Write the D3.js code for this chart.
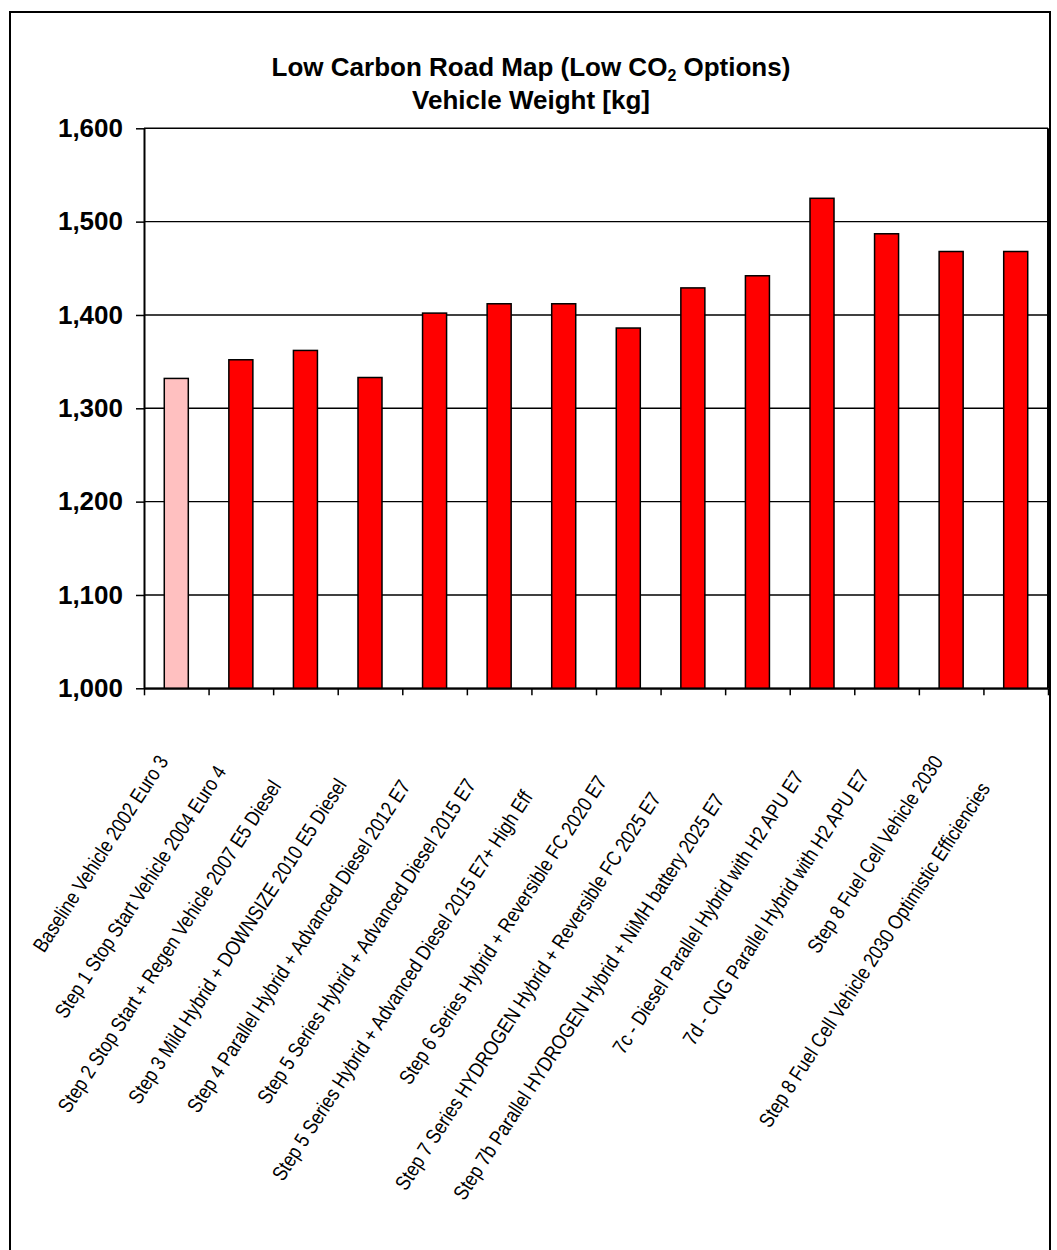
<!DOCTYPE html>
<html>
<head>
<meta charset="utf-8">
<script src="https://cdn.jsdelivr.net/npm/d3@7"></script>
<style>
  html, body { margin: 0; padding: 0; background: #fff; }
  svg { display: block; }
</style>
</head>
<body>
<svg id="chart" width="1057" height="1250"></svg>
<script>
// ---- data ----
const categories = [
  "Baseline Vehicle 2002 Euro 3",
  "Step 1 Stop Start Vehicle 2004 Euro 4",
  "Step 2 Stop Start + Regen Vehicle 2007 E5 Diesel",
  "Step 3 Mild Hybrid + DOWNSIZE 2010 E5 Diesel",
  "Step 4 Parallel Hybrid + Advanced Diesel 2012 E7",
  "Step 5 Series Hybrid + Advanced Diesel 2015 E7",
  "Step 5 Series Hybrid + Advanced Diesel 2015 E7+ High Eff",
  "Step 6 Series Hybrid + Reversible FC 2020 E7",
  "Step 7 Series HYDROGEN Hybrid + Reversible FC 2025 E7",
  "Step 7b Parallel HYDROGEN Hybrid + NiMH battery 2025 E7",
  "7c - Diesel Parallel Hybrid with H2 APU E7",
  "7d - CNG Parallel Hybrid with H2 APU E7",
  "Step 8 Fuel Cell Vehicle 2030",
  "Step 8 Fuel Cell Vehicle 2030 Optimistic Efficiencies"
];
const weights = [1332, 1352, 1362, 1333, 1402, 1412, 1412, 1386, 1429, 1442, 1525, 1487, 1468, 1468];
const yTicks = [1000, 1100, 1200, 1300, 1400, 1500, 1600];
const titleLine1 = ["Low Carbon Road Map (Low CO", "2", " Options)"];
const titleLine2 = "Vehicle Weight [kg]";

// ---- layout / style ----
const plot = { left: 144, right: 1048, top: 128.3, bottom: 688.3 };
const baseColor = "#FFC0C0";
const stepColor = "#FF0000";
const labelAngle = -57;
const labelSize = 20.8;
const labelSqueeze = 0.845;
const FONT = "Arial, 'Liberation Sans', Helvetica, sans-serif";

const svg = d3.select("#chart");

// outer chart border
svg.append("rect")
  .attr("x", 10).attr("y", 12)
  .attr("width", 1040).attr("height", 1260)
  .attr("fill", "#fff").attr("stroke", "#000").attr("stroke-width", 2);

const x = d3.scaleBand().domain(categories).range([plot.left, plot.right]).padding(0);
const xEdge = d3.scaleLinear().domain([0, categories.length]).range([plot.left, plot.right]);
const y = d3.scaleLinear().domain([1000, 1600]).range([plot.bottom, plot.top]);

// gridlines
svg.append("g")
  .selectAll("line")
  .data(yTicks)
  .join("line")
  .attr("x1", plot.left).attr("x2", plot.right)
  .attr("y1", d => y(d)).attr("y2", d => y(d))
  .attr("stroke", "#000").attr("stroke-width", 1.4);

// plot border (right side)
svg.append("line")
  .attr("x1", plot.right).attr("x2", plot.right)
  .attr("y1", plot.top).attr("y2", plot.bottom)
  .attr("stroke", "#000").attr("stroke-width", 2);

// bars
const barW = x.bandwidth() * 0.372;
svg.append("g")
  .selectAll("rect")
  .data(weights)
  .join("rect")
  .attr("x", (d, i) => x(categories[i]) + (x.bandwidth() - barW) / 2)
  .attr("y", d => y(d))
  .attr("width", barW)
  .attr("height", d => y(1000) - y(d))
  .attr("fill", (d, i) => i === 0 ? baseColor : stepColor)
  .attr("stroke", "#000").attr("stroke-width", 1.5);

// y axis
const yAxis = svg.append("g")
  .attr("transform", `translate(${plot.left},0)`)
  .call(d3.axisLeft(y).tickValues(yTicks).tickSize(8).tickSizeOuter(0).tickPadding(13)
        .tickFormat(d3.format(",")));
yAxis.select(".domain").attr("stroke", "#000").attr("stroke-width", 2);
yAxis.selectAll(".tick line").attr("stroke", "#000").attr("stroke-width", 1.5);
yAxis.selectAll(".tick text")
  .attr("font-family", FONT).attr("font-weight", "bold").attr("font-size", 26)
  .attr("fill", "#000");

// x axis (ticks at category boundaries)
const xAxis = svg.append("g")
  .attr("transform", `translate(0,${plot.bottom})`)
  .call(d3.axisBottom(xEdge).tickValues(d3.range(categories.length + 1)).tickSize(7)
        .tickSizeOuter(0).tickFormat(""));
xAxis.select(".domain").attr("stroke", "#000").attr("stroke-width", 2);
xAxis.selectAll(".tick line").attr("stroke", "#000").attr("stroke-width", 1.5);

// category labels (rotated, condensed)
const labelG = svg.append("g");
categories.forEach((c, i) => {
  const cx = x(c) + x.bandwidth() / 2;
  const g = labelG.append("g").attr("transform", `translate(${cx},750) rotate(${labelAngle})`);
  const t = g.append("text")
    .attr("font-family", FONT).attr("font-size", labelSize).attr("fill", "#000")
    .attr("text-anchor", "start")
    .text(c);
  const W = t.node().getComputedTextLength();
  const startX = 28.7 - W;
  t.attr("transform", `translate(${startX},0) scale(${labelSqueeze},1)`);
});

// title
const title = svg.append("text")
  .attr("x", 531).attr("y", 76)
  .attr("text-anchor", "middle")
  .attr("font-family", FONT).attr("font-weight", "bold").attr("font-size", 26)
  .attr("fill", "#000");
title.append("tspan").text(titleLine1[0]);
title.append("tspan").attr("font-size", 16).attr("dy", 5).text(titleLine1[1]);
title.append("tspan").attr("dy", -5).text(titleLine1[2]);

svg.append("text")
  .attr("x", 531).attr("y", 109)
  .attr("text-anchor", "middle")
  .attr("font-family", FONT).attr("font-weight", "bold").attr("font-size", 26)
  .attr("fill", "#000")
  .text(titleLine2);
</script>
</body>
</html>
